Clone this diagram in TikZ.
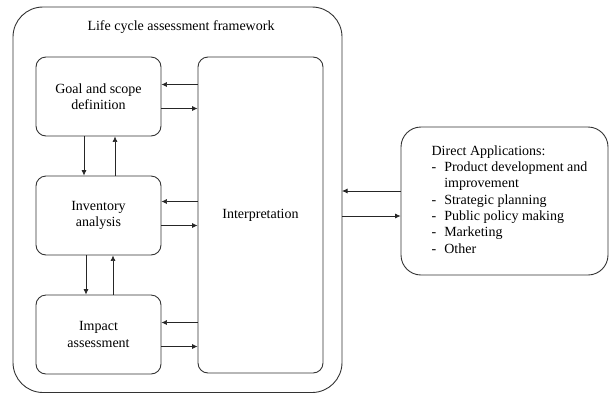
\documentclass[tikz,border=0pt]{standalone}
\usepackage{fontspec}
\setmainfont{Liberation Serif}
\usetikzlibrary{arrows.meta, positioning}

\begin{document}
\begin{tikzpicture}[
  x=1pt,
  y=-1pt,
  font=\fontsize{14}{16.3}\selectfont,
  stage/.style={
    draw=black!80,
    line width=0.9pt,
    rounded corners=10pt,
    minimum width=125pt,
    minimum height=79pt,
    inner sep=0pt,
    align=center
  },
  arr/.style={
    -{Latex[length=5.5pt,width=5pt]},
    line width=0.7pt,
    black!85
  }
]

\useasboundingbox (0,0) rectangle (609,394);

% outer frame
\draw [black!80, line width=0.9pt, rounded corners=30pt] (13,7) rectangle (342,392.5);
\node (title) at (181,27) {Life cycle assessment framework};

\node [stage] (goal) at (98.5,96.5) {Goal and scope\\definition};
\node [stage] (inv) at (98.5,215.5) {Inventory\\analysis};
\node [stage] (impact) at (98.5,334.5) {Impact\\assessment};
\node [stage, minimum height=316pt] (interp) at (260.5,215) {Interpretation};

\coordinate (frameE) at (342,200);

\node [stage, rounded corners=20pt, minimum width=207pt, minimum height=148pt,
       align=left] (apps) at (504.5,201) {%
  \hspace*{10pt}\begin{tabular}{@{}l@{\hspace{8pt}}l@{}}
  \multicolumn{2}{@{}l@{}}{Direct Applications:}\\
  - & Product development and\\
    & improvement\\
  - & Strategic planning\\
  - & Public policy making\\
  - & Marketing\\
  - & Other
  \end{tabular}};

\draw [arr] ([yshift=12pt]interp.west |- goal.east) -- ([yshift=12pt]goal.east);
\draw [arr] ([yshift=-12pt]goal.east) -- ([yshift=-12pt]interp.west |- goal.east);
\draw [arr] ([yshift=14pt]interp.west |- inv.east) -- ([yshift=14pt]inv.east);
\draw [arr] ([yshift=-10pt]inv.east) -- ([yshift=-10pt]interp.west |- inv.east);
\draw [arr] ([yshift=12pt]interp.west |- impact.east) -- ([yshift=12pt]impact.east);
\draw [arr] ([yshift=-12pt]impact.east) -- ([yshift=-12pt]interp.west |- impact.east);

\draw [arr] ([xshift=-14.5pt]goal.south) -- ([xshift=-14.5pt]inv.north);
\draw [arr] ([xshift=16.5pt]inv.north) -- ([xshift=16.5pt]goal.south);
\draw [arr] ([xshift=-12.5pt]inv.south) -- ([xshift=-12.5pt]impact.north);
\draw [arr] ([xshift=14.5pt]impact.north) -- ([xshift=14.5pt]inv.south);

\draw [arr] ([yshift=10pt]apps.west) -- ([yshift=10pt]apps.west -| frameE);
\draw [arr] ([yshift=-15pt]apps.west -| frameE) -- ([yshift=-15pt]apps.west);

\end{tikzpicture}
\end{document}
